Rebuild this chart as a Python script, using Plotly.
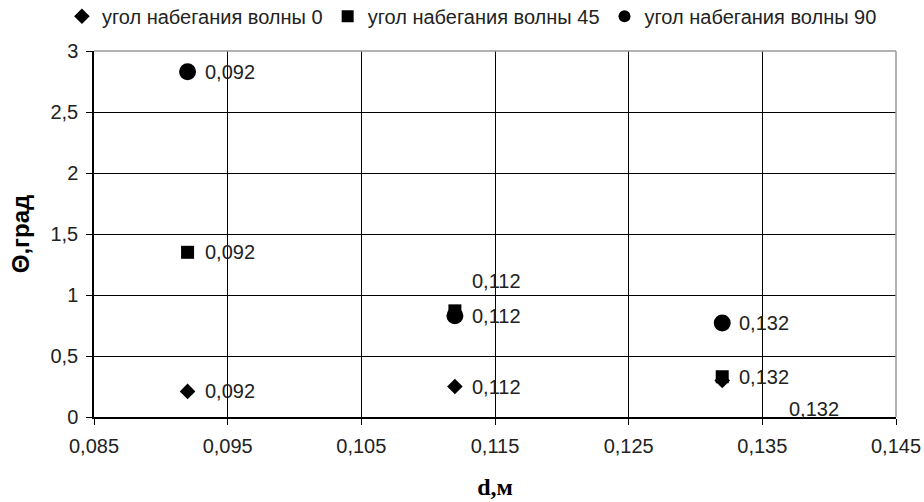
import plotly.graph_objects as go

d_values = [0.092, 0.112, 0.132]
theta_0 = [0.21, 0.25, 0.30]
theta_45 = [1.35, 0.87, 0.33]
theta_90 = [2.83, 0.83, 0.77]
series_names = ["угол набегания волны 0", "угол набегания волны 45", "угол набегания волны 90"]
x_ticks = [0.085, 0.095, 0.105, 0.115, 0.125, 0.135, 0.145]
y_ticks = [0, 0.5, 1, 1.5, 2, 2.5, 3]

# label pixel offsets (xshift, yshift) per series/point
offsets_0 = [(15, 0), (15, 0), (65, -29)]
offsets_45 = [(15, 0), (15, 30), (15, 0)]
offsets_90 = [(15, 0), (15, 0), (15, 0)]

symbols = ["diamond", "square", "circle"]
sizes = [12, 13, 17]
series = [theta_0, theta_45, theta_90]
offsets = [offsets_0, offsets_45, offsets_90]

font = "Liberation Sans, Arial, sans-serif"
fs = 20
fig = go.Figure()
annotations = []
for name, ys, sym, sz, offs in zip(series_names, series, symbols, sizes, offsets):
    fig.add_trace(go.Scatter(x=d_values, y=ys, mode="markers", name=name,
                             marker=dict(symbol=sym, size=sz, color="black")))
    for xv, yv, (dx, dy) in zip(d_values, ys, offs):
        annotations.append(dict(x=xv, y=yv, xref="x", yref="y",
                                text=f"{xv:.3f}".replace(".", ","),
                                showarrow=False, xanchor="left", yanchor="middle",
                                xshift=dx, yshift=dy,
                                font=dict(family=font, size=fs, color="#222")))

fig.update_layout(
    width=924, height=502,
    margin=dict(l=94, r=28, t=51, b=85, autoexpand=False),
    plot_bgcolor="white", paper_bgcolor="white",
    font=dict(family=font, size=fs, color="#222"),
    showlegend=True,
    legend=dict(orientation="h", x=-0.04, xanchor="left", y=1.095, yanchor="middle",
                font=dict(family=font, size=fs), itemsizing="constant",
                itemwidth=30, tracegroupgap=0),
    annotations=annotations,
    shapes=[
        dict(type="line", xref="paper", yref="paper", x0=0, x1=1, y0=1, y1=1,
             line=dict(color="#999", width=1.5), layer="above"),
        dict(type="line", xref="paper", yref="paper", x0=1, x1=1, y0=0, y1=1,
             line=dict(color="#999", width=1.5), layer="above"),
    ],
    xaxis=dict(range=[0.085, 0.145], tickvals=x_ticks,
               ticktext=[f"{v:.3f}".replace(".", ",") for v in x_ticks],
               showgrid=True, gridcolor="black", gridwidth=1,
               showline=True, linecolor="black", linewidth=1.5,
               ticks="outside", ticklen=6, tickcolor="black", zeroline=False,
               ticklabelstandoff=4,
               tickfont=dict(family=font, size=fs, color="#222"),
               title=dict(text="<b>d,м</b>", font=dict(family="Liberation Serif, serif", size=24, color="black"), standoff=22)),
    yaxis=dict(range=[0, 3], tickvals=y_ticks,
               ticktext=[str(v).replace(".", ",") for v in y_ticks],
               showgrid=True, gridcolor="black", gridwidth=1,
               showline=True, linecolor="black", linewidth=1.5,
               ticks="outside", ticklen=6, tickcolor="black", zeroline=False,
               ticklabelstandoff=4,
               tickfont=dict(family=font, size=fs, color="#222"),
               title=dict(text="<b>Θ,град</b>", font=dict(family=font, size=24, color="black"), standoff=14)),
)
# remove the default 8px page margin so the figure fills the 924x502 window
fig.write_html("out.html", config={"displayModeBar": False},
               post_script="document.body.style.margin='0';document.body.style.overflow='hidden';")
